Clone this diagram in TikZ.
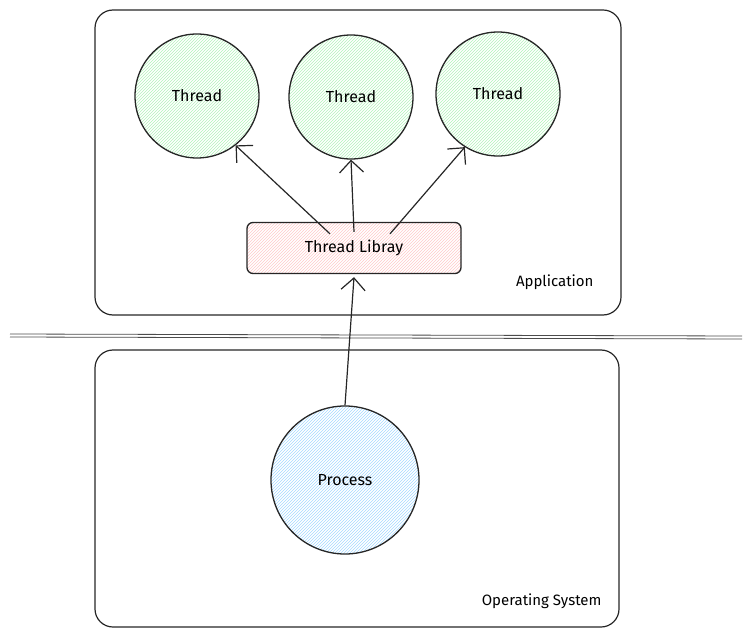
\documentclass[tikz,border=0pt]{standalone}
\usepackage{fontspec}
\setmainfont{Fira Sans}
\usetikzlibrary{arrows.meta,patterns}
\definecolor{hatchgreen}{HTML}{B2F2BB}
\definecolor{hatchred}{HTML}{FFC9C9}
\definecolor{hatchblue}{HTML}{A5D8FF}
\begin{document}
\begin{tikzpicture}[x=1pt,y=-1pt,
  frame/.style={draw=black!85,line width=1.2pt,rounded corners=18pt},
  thread/.style={circle,draw=black!85,line width=1.3pt,minimum size=124pt,
    pattern=north east lines,pattern color=hatchgreen,font=\fontsize{16}{19}\selectfont},
  libbox/.style={rectangle,rounded corners=6pt,draw=black!85,line width=1.3pt,
    minimum width=214pt,minimum height=51pt,
    pattern=north east lines,pattern color=hatchred,font=\fontsize{16}{19}\selectfont},
  proc/.style={circle,draw=black!85,line width=1.3pt,minimum size=148pt,
    pattern=north east lines,pattern color=hatchblue,font=\fontsize{16}{19}\selectfont},
  label/.style={anchor=east,font=\fontsize{15}{18}\selectfont},
  link/.style={draw=black!85,line width=1.2pt,-{Straight Barb[length=12pt,width=24pt]}}]
\useasboundingbox (0,0) rectangle (752,636);

% boxes
\draw[frame] (95,10) rectangle (621,315);
\draw[frame] (95,350) rectangle (619,627);
\draw[black!70,line width=0.8pt] (10,334) -- (742,336);
\draw[black!70,line width=0.8pt] (10,337) -- (742,339);

% threads
\node[thread] (thrA) at (197,96) {Thread};
\node[thread] (thrB) at (351,97) {Thread};
\node[thread] (thrC) at (498,94) {Thread};
\node[libbox] (lib) at (354,248) {Thread Libray};
\node[proc] (proc) at (345,480) {Process};

\node[label] (app) at (597,282) {Application};
\node[label] (os) at (605,601) {Operating System};

\draw[link] ([xshift=-24pt,yshift=-12pt]lib.north) -- (thrA.-52);
\draw[link] ([yshift=-10pt]lib.north) -- (thrB.-90);
\draw[link] ([xshift=36pt,yshift=-12pt]lib.north) -- (thrC.-122);
\draw[link] (proc.north) -- ([yshift=-3pt]lib.south);
\end{tikzpicture}
\end{document}
